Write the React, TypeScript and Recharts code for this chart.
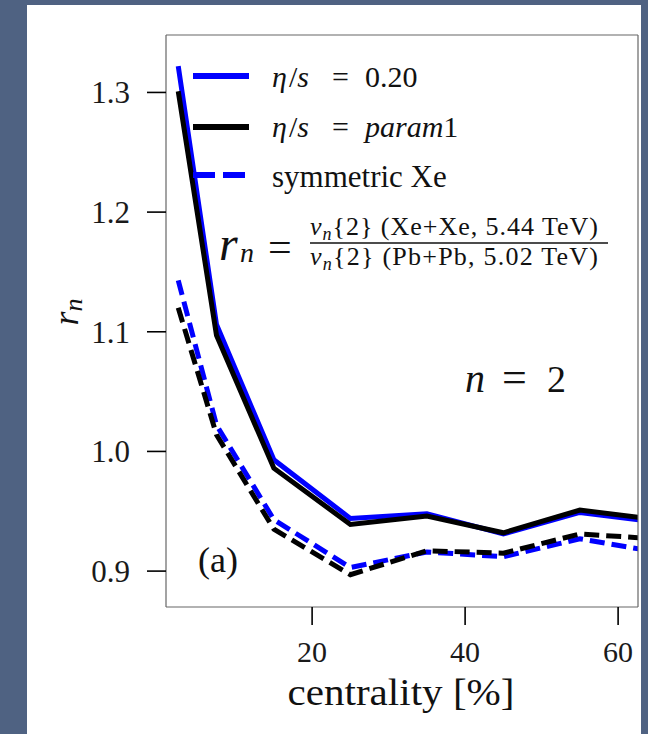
import { LineChart, Line, XAxis, YAxis } from 'recharts'

// centrality bin centres [%]
const centrality = [2.5, 7.5, 15, 25, 35, 45, 55, 65]
// r_n for n = 2
const etaS020 = [1.322, 1.106, 0.993, 0.944, 0.948, 0.931, 0.949, 0.941]
const etaSParam1 = [1.301, 1.097, 0.986, 0.939, 0.946, 0.932, 0.951, 0.943]
const symXeBlue = [1.143, 1.022, 0.943, 0.903, 0.916, 0.912, 0.927, 0.916]
const symXeBlack = [1.12, 1.014, 0.935, 0.897, 0.917, 0.915, 0.931, 0.927]

const xTicks = [20, 40, 60]
const yTicks = [0.9, 1.0, 1.1, 1.2, 1.3]

const W = 648
const H = 734
const BG = '#4f6282'
const FONT = '"Liberation Serif", "DejaVu Serif", serif'
const BLUE = '#0000ff'

const data = centrality.map((c, i) => ({
  c,
  blue: etaS020[i],
  black: etaSParam1[i],
  blueDash: symXeBlue[i],
  blackDash: symXeBlack[i],
}))

const tickStyle = { fill: '#1a1a1a', fontSize: 30, fontFamily: FONT }
const frame = { stroke: '#666', strokeWidth: 1.2 }
const tickLn = { stroke: '#000', strokeWidth: 1.6 }

function T(props: any) {
  return <text fontFamily={FONT} fill="#111" {...props} />
}

function Annotations() {
  return (
    <svg width={W} height={H} style={{ position: 'absolute', left: 0, top: 0, pointerEvents: 'none' }}>
      {/* legend */}
      <line x1={193} x2={249} y1={76} y2={76} stroke={BLUE} strokeWidth={6} />
      <line x1={193} x2={249} y1={127} y2={127} stroke="#000" strokeWidth={6} />
      <line x1={193} x2={249} y1={175} y2={175} stroke={BLUE} strokeWidth={6} strokeDasharray="22 8" />

      <T x={272} y={87} fontSize={30}>
        <tspan fontStyle="italic">η</tspan><tspan dx={2}>/</tspan><tspan fontStyle="italic">s</tspan>
      </T>
      <T x={332} y={87} fontSize={30}>=</T>
      <T x={365} y={87} fontSize={30}>0.20</T>

      <T x={272} y={137} fontSize={30}>
        <tspan fontStyle="italic">η</tspan><tspan dx={2}>/</tspan><tspan fontStyle="italic">s</tspan>
      </T>
      <T x={332} y={137} fontSize={30}>=</T>
      <T x={365} y={137} fontSize={30}>
        <tspan fontStyle="italic">param</tspan>1
      </T>

      <T x={272} y={187} fontSize={31}>symmetric Xe</T>

      {/* r_n definition */}
      <T x={219} y={260} fontSize={48} fontStyle="italic">r</T>
      <T x={240} y={262} fontSize={28} fontStyle="italic">n</T>
      <T x={268} y={261} fontSize={42}>=</T>
      <T x={310} y={235} fontSize={26} textLength={288} lengthAdjust="spacing">
        <tspan fontStyle="italic">v</tspan><tspan fontSize={18} fontStyle="italic" dy={5}>n</tspan>
        <tspan dy={-5}>{'{2} (Xe+Xe, 5.44 TeV)'}</tspan>
      </T>
      <line x1={310} x2={608} y1={243} y2={243} stroke="#111" strokeWidth={1.5} />
      <T x={310} y={265} fontSize={26} textLength={288} lengthAdjust="spacing">
        <tspan fontStyle="italic">v</tspan><tspan fontSize={18} fontStyle="italic" dy={5}>n</tspan>
        <tspan dy={-5}>{'{2} (Pb+Pb, 5.02 TeV)'}</tspan>
      </T>

      {/* n = 2 */}
      <T x={465} y={392} fontSize={40} fontStyle="italic">n</T>
      <T x={502} y={392} fontSize={44}>=</T>
      <T x={547} y={392} fontSize={38}>2</T>

      {/* panel label */}
      <T x={198} y={572} fontSize={36}>(a)</T>

      {/* axis titles */}
      <T x={401} y={705} fontSize={38} textAnchor="middle" textLength={227} lengthAdjust="spacingAndGlyphs">
        centrality [%]
      </T>
      <T transform="rotate(-90 78 312)" x={78} y={312} textAnchor="middle" fontStyle="italic">
        <tspan fontSize={36}>r</tspan><tspan fontSize={26} dy={4}>n</tspan>
      </T>
    </svg>
  )
}

export default function App() {
  return (
    <div style={{ position: 'absolute', left: 0, top: 0, width: W, height: H, background: BG, overflow: 'hidden' }}>
      <div style={{ position: 'absolute', left: 27, top: 5, width: 614, height: H - 5, background: '#fff' }} />
      <div style={{ position: 'absolute', left: 0, top: 0 }}>
        <LineChart width={W} height={H} data={data} margin={{ top: 35, right: 10, bottom: 37, left: 66 }}>
          <XAxis
            dataKey="c"
            type="number"
            domain={[0.9, 62.6]}
            allowDataOverflow
            ticks={xTicks}
            interval={0}
            height={90}
            tickSize={18}
            tickMargin={16}
            axisLine={frame}
            tickLine={tickLn}
            tick={tickStyle}
          />
          <XAxis
            xAxisId="top"
            dataKey="c"
            type="number"
            orientation="top"
            mirror
            domain={[0.9, 62.6]}
            allowDataOverflow
            axisLine={frame}
            tickLine={false}
            tick={false}
          />
          <YAxis
            type="number"
            domain={[0.87, 1.348]}
            allowDataOverflow
            ticks={yTicks}
            interval={0}
            width={100}
            tickSize={19}
            tickMargin={17}
            axisLine={frame}
            tickLine={tickLn}
            tick={{ ...tickStyle, fontSize: 31 }}
            tickFormatter={(v: number) => v.toFixed(1)}
          />
          <YAxis
            yAxisId="r"
            type="number"
            orientation="right"
            mirror
            domain={[0.87, 1.348]}
            allowDataOverflow
            ticks={yTicks}
            interval={0}
            tickSize={20}
            axisLine={frame}
            tickLine={tickLn}
            tick={false}
          />
          <Line dataKey="blue" stroke={BLUE} strokeWidth={5} dot={false} isAnimationActive={false} />
          <Line dataKey="black" stroke="#000" strokeWidth={5} dot={false} isAnimationActive={false} />
          <Line dataKey="blueDash" stroke={BLUE} strokeWidth={5} strokeDasharray="15 7" dot={false} isAnimationActive={false} />
          <Line dataKey="blackDash" stroke="#000" strokeWidth={5} strokeDasharray="15 7" dot={false} isAnimationActive={false} />
        </LineChart>
      </div>
      <Annotations />
    </div>
  )
}
